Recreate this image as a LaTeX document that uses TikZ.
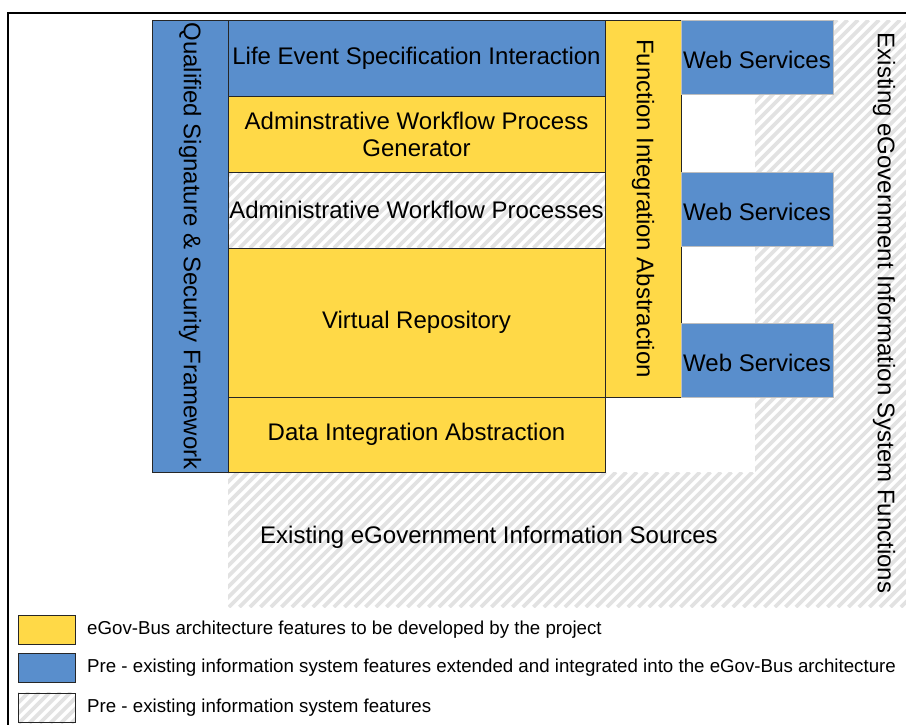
\documentclass[tikz,border=0pt]{standalone}
\usepackage{fontspec}
\setmainfont{Liberation Sans}
\definecolor{egyellow}{RGB}{255,217,71}
\definecolor{egblue}{RGB}{89,142,204}
\definecolor{hatchgray}{RGB}{226,226,226}
\definecolor{wsborder}{RGB}{190,190,190}
\newcommand{\hatcharea}[4]{%
  \begin{scope}
    \clip (#1,#2) rectangle (#3,#4);
    \pgfmathsetmacro{\hh}{#4-#2}
    \foreach \k in {-800,-789.5,...,920}{
      \draw[hatchgray,line width=3.6pt] (\k,#4) -- ++(\hh,-\hh);
    }
  \end{scope}}
\begin{document}
\begin{tikzpicture}[x=1pt,y=-1pt,
  box/.style={draw=black!85,line width=0.8pt,minimum width=#1,inner sep=0pt,font=\fontsize{24}{27}\selectfont,align=center},
  ybox/.style={box=#1,fill=egyellow},
  bbox/.style={box=#1,fill=egblue},
  wsbox/.style={draw=wsborder,line width=0.8pt,fill=egblue,minimum width=152pt,minimum height=74pt,inner sep=0pt},
  lbl/.style={font=\fontsize{24}{27}\selectfont,inner sep=0pt},
  legbox/.style={draw=black!85,line width=0.8pt,minimum width=57pt,minimum height=29pt,inner sep=0pt},
  legtxt/.style={anchor=west,font=\fontsize{18.7}{21}\selectfont,inner sep=0pt}
]
\useasboundingbox (0,0) rectangle (906,724);
\fill[white] (0,0) rectangle (906,724);
% outer frame
\draw[line width=2pt] (8,726) -- (8,13) -- (908,13);
% hatched background areas
\hatcharea{755}{20}{906}{607}
\hatcharea{228}{472}{755}{607}
\hatcharea{228}{172}{605}{248}
% main stack
\node[bbox=76pt,minimum height=452pt] (qsf) at (190,246) {};
\node[lbl,rotate=-90] (qsft) at (qsf.center) {Qualified Signature \& Security Framework};
\node[bbox=377pt,minimum height=76pt] (life) at (416.5,58) {Life Event Specification Interaction};
\node[ybox=377pt,minimum height=76pt] (gen) at (416.5,134) {Adminstrative Workflow Process\\Generator};
\node[box=377pt,minimum height=76pt] (awp) at (416.5,210) {Administrative Workflow Processes};
\node[ybox=377pt,minimum height=149pt] (vr) at (416.5,322.5) {Virtual Repository};
\node[ybox=377pt,minimum height=75pt] (dia) at (416.5,434.5) {Data Integration Abstraction};
\node[ybox=76pt,minimum height=377pt] (fia) at (643,208.5) {};
\node[lbl,rotate=-90] (fiat) at (fia.center) {Function Integration Abstraction};
% web services
\node[wsbox] (ws1) at (757,57) {};
\node[wsbox] (ws2) at (757,209) {};
\node[wsbox] (ws3) at (757,360) {};
\node[lbl,yshift=-3pt] (ws1t) at (ws1.center) {Web Services};
\node[lbl,yshift=-3pt] (ws2t) at (ws2.center) {Web Services};
\node[lbl,yshift=-3pt] (ws3t) at (ws3.center) {Web Services};
% labels of existing areas
\node[lbl,rotate=-90] (eisf) at (884,313) {Existing eGovernment Information System Functions};
\node[lbl] (eis) at (489,537) {Existing eGovernment Information Sources};
% legend
\node[legbox,fill=egyellow] (l1) at (46.5,629.5) {};
\node[legbox,fill=egblue] (l2) at (46.5,668) {};
\hatcharea{18}{692}{75}{723}
\node[legbox] (l3) at (46.5,707.5) {};
\node[legtxt] (t1) at (87,629.5) {eGov-Bus architecture features to be developed by the project};
\node[legtxt] (t2) at (87,668) {Pre - existing information system features extended and integrated into the eGov-Bus architecture};
\node[legtxt] (t3) at (87,707.5) {Pre - existing information system features};
\end{tikzpicture}
\end{document}
